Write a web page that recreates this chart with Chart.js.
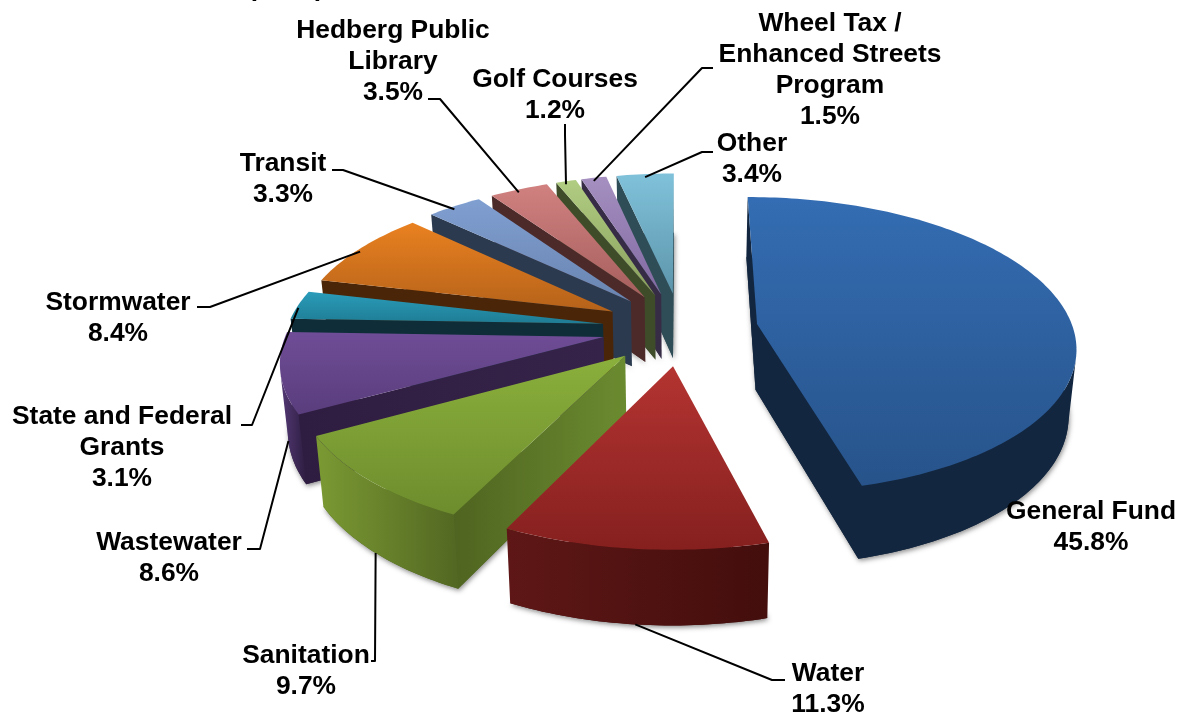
<!DOCTYPE html>
<html>
<head>
<meta charset="utf-8">
<title>Revenue by fund</title>
<script src="https://cdn.jsdelivr.net/npm/chart.js@4"></script>
<style>
  html, body { margin: 0; padding: 0; background: #fff; overflow: hidden; }
  canvas { display: block; }
</style>
</head>
<body>
<canvas id="fundChart" width="1181" height="717"></canvas>
<script>
const categories = [
  'General Fund', 'Water', 'Sanitation', 'Wastewater', 'State and Federal\nGrants', 'Stormwater',
  'Transit', 'Hedberg Public\nLibrary', 'Golf Courses', 'Wheel Tax /\nEnhanced Streets\nProgram', 'Other'
];
const shares = [45.8, 11.3, 9.7, 8.6, 3.1, 8.4, 3.3, 3.5, 1.2, 1.5, 3.4];

const topLight = ['#346db3', '#b43431', '#8bb03c', '#704d97', '#2a9cba', '#e98120', '#809fd1', '#d08180', '#b1cd82', '#a590c1', '#80c2da'];
const topDark = ['#27538a', '#85201f', '#6d8c2d', '#593d7c', '#1f7c94', '#b5621a', '#6984b0', '#a65f5d', '#899f5d', '#8169a0', '#5d95ab'];
const wallLeft = ['#12263f', '#5e1716', '#7b9a33', '#543a76', '#0e2d38', '#4b2507', '#2b3a4f', '#4c2a2a', '#3f4c2a', '#372c46', '#2f4d57'];
const wallRight = ['#12263f', '#430e0c', '#526722', '#2e1d41', '#0e2d38', '#4b2507', '#2b3a4f', '#4c2a2a', '#3f4c2a', '#372c46', '#2f4d57'];
const cutLeft = ['#12263f', '#5e1716', '#4f6420', '#2e1d41', '#0e2d38', '#4b2507', '#2b3a4f', '#4c2a2a', '#3f4c2a', '#372c46', '#2f4d57'];
const cutRight = ['#12263f', '#430e0c', '#6b8b30', '#362349', '#0e2d38', '#4b2507', '#2b3a4f', '#4c2a2a', '#3f4c2a', '#372c46', '#2f4d57'];
const explode = [77, 79, 79, 79, 79, 79, 79, 79, 79, 79, 79];

// text placement: centre x, first line y, then the leader's free end and elbow
const labelX = [1091, 828, 306, 169, 122, 118, 283, 393, 555, 830, 752];
const labelY = [512, 674, 656, 543, 417, 303, 164, 31, 80, 24, 144];
const leaderStart = [null, [785, 680], [371, 661], [247, 549], [241, 425], [197, 307], [332, 170], [428, 99], [565, 124], [713, 68], [713, 152]];
const leaderElbow = [null, [772, 680], [375, 661], [260, 549], [252, 425], [210, 307], [343, 170], [440, 99], [565, 135], [702, 68], [702, 152]];
const leaderOnBase = [false, true, true, true, false, false, false, false, false, false, false];

const LINE_HEIGHT = 31;
const TILT = 0.462;      // vertical squash of the pie plane
const PERSPECTIVE = 0.141;
const DEPTH = 66;        // extrusion height
const BASE_SHRINK = 0.98;

function project(arc, angle, radius, onBase) {
  const mid = (arc.startAngle + arc.endAngle) / 2;
  const offset = arc.options.offset;
  const px = Math.cos(mid) * offset + Math.cos(angle) * radius;
  const py = Math.sin(mid) * offset + Math.sin(angle) * radius;
  const s = 1 / (1 - PERSPECTIVE * py / arc.outerRadius);
  let x = px * s;
  let y = py * s * TILT;
  if (onBase) {
    x *= BASE_SHRINK;
    y = y * BASE_SHRINK + DEPTH * s;
  }
  return { x: arc.x + x, y: arc.y + y };
}

function outerEdge(arc, onBase) {
  const pts = [];
  const steps = Math.max(2, Math.ceil((arc.endAngle - arc.startAngle) / 0.02));
  for (let i = 0; i <= steps; i++) {
    const a = arc.startAngle + (arc.endAngle - arc.startAngle) * i / steps;
    pts.push(project(arc, a, arc.outerRadius, onBase));
  }
  return pts;
}

function tracePolygon(ctx, pts) {
  ctx.beginPath();
  pts.forEach((p, i) => (i ? ctx.lineTo(p.x, p.y) : ctx.moveTo(p.x, p.y)));
  ctx.closePath();
}

// walls facing the viewer wind the other way round on screen
function facesViewer(a, b, c, d) {
  const q = [a, b, c, d];
  let area = 0;
  for (let i = 0; i < 4; i++) {
    const n = q[(i + 1) % 4];
    area += q[i].x * n.y - n.x * q[i].y;
  }
  return area < 0;
}

function fillWall(ctx, pts, left, right) {
  const xs = pts.map(p => p.x);
  const grad = ctx.createLinearGradient(Math.min(...xs), 0, Math.max(...xs), 0);
  grad.addColorStop(0, left);
  grad.addColorStop(1, right);
  tracePolygon(ctx, pts);
  ctx.fillStyle = grad;
  ctx.fill();
}

function drawSlice(ctx, arc, i) {
  const apexTop = project(arc, 0, 0, false);
  const apexBase = project(arc, 0, 0, true);
  const rimTop = outerEdge(arc, false);
  const rimBase = outerEdge(arc, true);
  const last = rimTop.length - 1;

  // soft shadow thrown by the underside
  ctx.save();
  ctx.shadowColor = 'rgba(0,0,0,0.45)';
  ctx.shadowBlur = 5;
  ctx.shadowOffsetX = 1;
  ctx.shadowOffsetY = 2;
  tracePolygon(ctx, [apexBase, ...rimBase]);
  ctx.fillStyle = wallRight[i];
  ctx.fill();
  ctx.restore();

  // flat cut faces
  if (facesViewer(apexTop, rimTop[0], rimBase[0], apexBase)) {
    fillWall(ctx, [apexTop, rimTop[0], rimBase[0], apexBase], cutLeft[i], cutRight[i]);
  }
  if (facesViewer(rimTop[last], apexTop, apexBase, rimBase[last])) {
    fillWall(ctx, [rimTop[last], apexTop, apexBase, rimBase[last]], cutLeft[i], cutRight[i]);
  }

  // curved rim, only the run that is turned towards the viewer
  const upper = [];
  const lower = [];
  for (let k = 0; k < last; k++) {
    if (facesViewer(rimTop[k], rimTop[k + 1], rimBase[k + 1], rimBase[k])) {
      if (!upper.length) {
        upper.push(rimTop[k]);
        lower.push(rimBase[k]);
      }
      upper.push(rimTop[k + 1]);
      lower.push(rimBase[k + 1]);
    }
  }
  if (upper.length) {
    fillWall(ctx, [...upper, ...lower.reverse()], wallLeft[i], wallRight[i]);
  }

  // top face
  const face = [apexTop, ...rimTop];
  const ys = face.map(p => p.y);
  const grad = ctx.createLinearGradient(0, Math.min(...ys), 0, Math.max(...ys));
  grad.addColorStop(0, topLight[i]);
  grad.addColorStop(1, topDark[i]);
  tracePolygon(ctx, face);
  ctx.fillStyle = grad;
  ctx.fill();
}

function drawLabels(ctx, arcs) {
  ctx.strokeStyle = '#000';
  ctx.lineWidth = 2;
  ctx.lineJoin = 'round';
  arcs.forEach((arc, i) => {
    if (!leaderStart[i]) return;
    const mid = (arc.startAngle + arc.endAngle) / 2;
    const end = project(arc, mid, arc.outerRadius, leaderOnBase[i]);
    ctx.beginPath();
    ctx.moveTo(leaderStart[i][0], leaderStart[i][1]);
    ctx.lineTo(leaderElbow[i][0], leaderElbow[i][1]);
    // leaders on the top face stop just inside the rim
    ctx.lineTo(end.x, leaderOnBase[i] ? end.y : end.y + 3);
    ctx.stroke();
  });

  ctx.fillStyle = '#000';
  ctx.font = 'bold 26.4px "Liberation Sans", Arial, sans-serif';
  ctx.textAlign = 'center';
  ctx.textBaseline = 'middle';
  categories.forEach((name, i) => {
    const lines = name.split('\n').concat(shares[i].toFixed(1) + '%');
    lines.forEach((line, n) => ctx.fillText(line, labelX[i], labelY[i] + n * LINE_HEIGHT));
  });
  // title line running off the top edge
  ctx.fillText('(2014)', 286, -11);
}

const pie3d = {
  id: 'pie3d',
  beforeDatasetsDraw(chart) {
    const ctx = chart.ctx;
    const arcs = chart.getDatasetMeta(0).data;
    // painter's order: furthest slice first
    const order = arcs.map((arc, i) => i).sort((a, b) =>
      project(arcs[a], 0, 0, false).y - project(arcs[b], 0, 0, false).y);
    order.forEach(i => drawSlice(ctx, arcs[i], i));
    drawLabels(ctx, arcs);
    return false;
  }
};

new Chart(document.getElementById('fundChart'), {
  type: 'pie',
  data: {
    labels: categories,
    datasets: [{
      data: shares,
      backgroundColor: topLight,
      borderWidth: 0,
      offset: explode
    }]
  },
  options: {
    responsive: false,
    animation: false,
    radius: 316,
    layout: { padding: { left: 181, bottom: 60 } },
    plugins: {
      legend: { display: false },
      tooltip: { enabled: false }
    }
  },
  plugins: [pie3d]
});
</script>
</body>
</html>
